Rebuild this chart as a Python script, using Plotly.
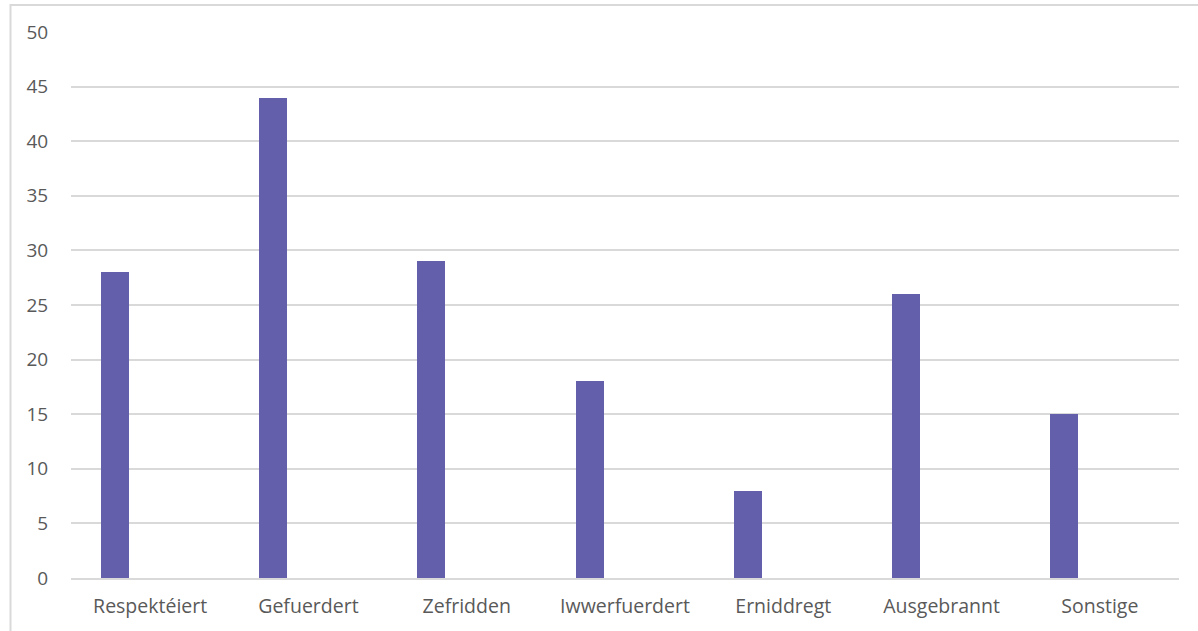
import plotly.graph_objects as go

categories = ["Respektéiert", "Gefuerdert", "Zefridden", "Iwwerfuerdert", "Erniddregt", "Ausgebrannt", "Sonstige"]
values = [28, 44, 29, 18, 8, 26, 15]
y_ticks = [0, 5, 10, 15, 20, 25, 30, 35, 40, 45, 50]

W, H = 1198, 631
L, R, T, B = 71, 19, 32, 53
pw, ph = W - L - R, H - T - B

fig = go.Figure(go.Bar(
    x=categories, y=values,
    marker=dict(color="#635FAA", line=dict(width=0)),
    width=0.177, offset=-0.312,
))

def px_x(p):
    return (p - L) / pw

def px_y(p):
    return (H - B - p) / ph

fig.add_shape(type="rect", xref="paper", yref="paper",
              x0=px_x(10.5), x1=px_x(1205), y0=px_y(640), y1=px_y(5),
              line=dict(color="#D9D9D9", width=2), fillcolor="rgba(0,0,0,0)", layer="below")

fig.update_layout(
    width=W, height=H,
    margin=dict(l=L, r=R, t=T, b=B),
    paper_bgcolor="white", plot_bgcolor="white",
    showlegend=False, bargap=0,
    font=dict(family="Open Sans, sans-serif", size=19, color="#595959"),
    xaxis=dict(showgrid=False, showline=True, linecolor="#D9D9D9", linewidth=1.5,
               ticks="outside", ticklen=10, tickcolor="rgba(0,0,0,0)",
               tickfont=dict(size=19.5, color="#595959")),
    yaxis=dict(range=[0, 50], tickvals=y_ticks, showgrid=True, gridcolor="#D9D9D9",
               gridwidth=1.5, zeroline=False, showline=False,
               ticks="outside", ticklen=18, tickcolor="rgba(0,0,0,0)",
               tickfont=dict(size=19, color="#595959")),
)

fig.write_html("out.html", config={"displayModeBar": False},
               post_script="document.body.style.margin='0';document.body.style.overflow='hidden';")
